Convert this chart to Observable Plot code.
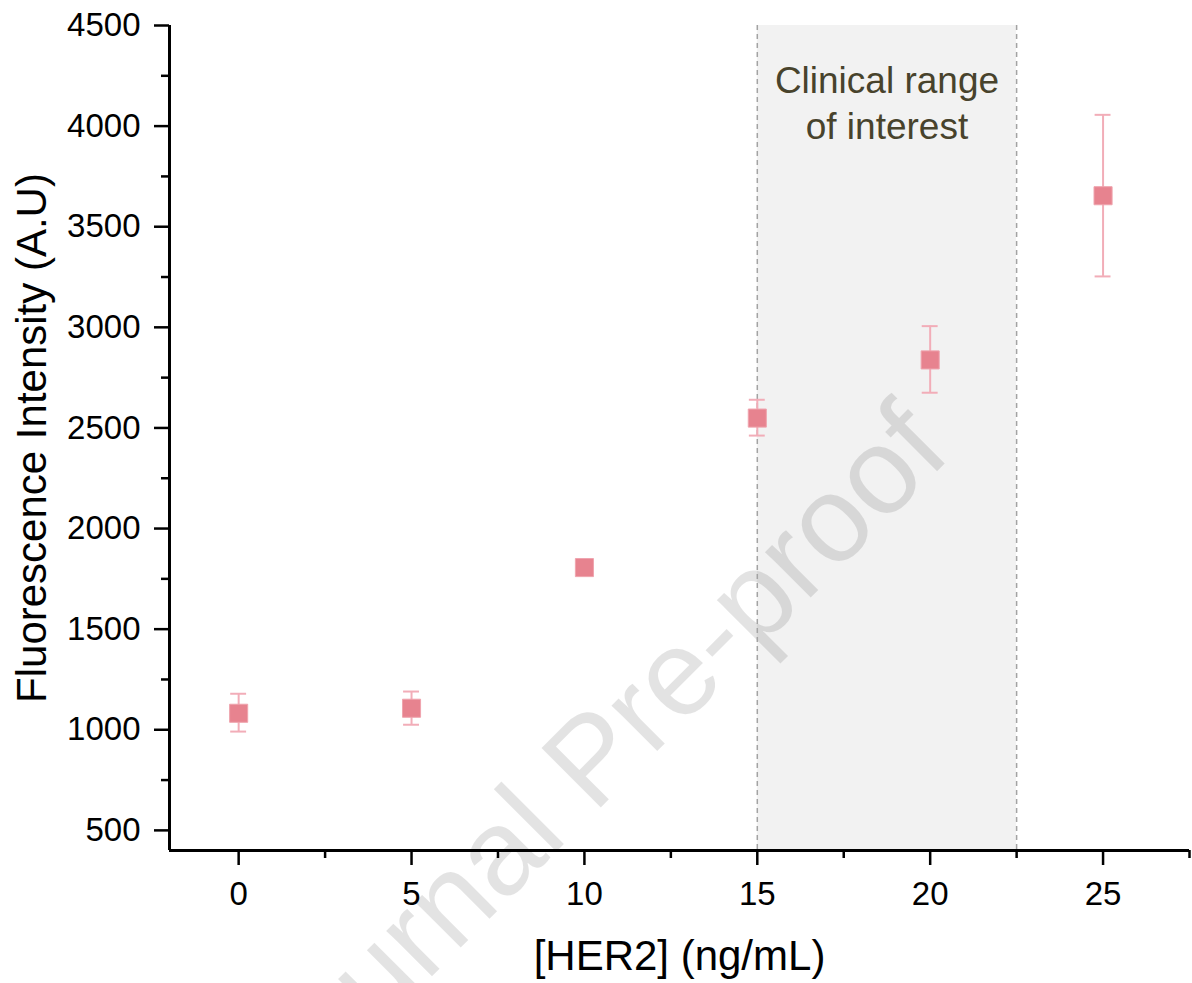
<!DOCTYPE html>
<html>
<head>
<meta charset="utf-8">
<script src="https://cdn.jsdelivr.net/npm/d3@7"></script>
<script src="https://cdn.jsdelivr.net/npm/@observablehq/plot@0.6"></script>
<style>
  html, body { margin: 0; padding: 0; background: #fff; }
  #chart svg { display: block; }
</style>
</head>
<body>
<div id="chart"></div>
<script>
// ---- data ----
const concentrations = [0, 5, 10, 15, 20, 25];           // [HER2] ng/mL
const intensity      = [1082, 1107, 1806, 2549, 2838, 3654];
const errLow         = [991, 1025, 1776, 2462, 2675, 3253];
const errHigh        = [1179, 1190, 1836, 2640, 3006, 4056];

const xDomain = [-2, 27.5];
const yDomain = [400, 4500];
const xTicks = [0, 5, 10, 15, 20, 25];
const xMinorTicks = [2.5, 7.5, 12.5, 17.5, 22.5, 27.5];
const yTicks = [500, 1000, 1500, 2000, 2500, 3000, 3500, 4000, 4500];
const yMinorTicks = [750, 1250, 1750, 2250, 2750, 3250, 3750, 4250];

const clinicalRange = [15, 22.5];
const annotationText = "Clinical range\nof interest";
const annotationY = 4330;
const xLabel = "[HER2] (ng/mL)";
const yLabel = "Fluorescence Intensity (A.U)";
const watermark = "Journal Pre-proof";

const data = concentrations.map((x, i) => ({x, y: intensity[i], lo: errLow[i], hi: errHigh[i]}));

const capHalf = 0.23; // half cap width in x units
const font = "Arial, 'Liberation Sans', Helvetica, sans-serif";

const chart = Plot.plot({
  width: 1192,
  height: 983,
  marginTop: 25,
  marginLeft: 169,
  marginRight: 3,
  marginBottom: 133,
  x: {domain: xDomain, label: null},
  y: {domain: yDomain, label: null},
  style: {fontFamily: font, fontSize: "33px", background: "#fff", color: "#000", overflow: "hidden"},
  marks: [
    // shaded clinical range
    Plot.rect([clinicalRange], {x1: d => d[0], x2: d => d[1], fill: "#f2f2f2"}),
    // watermark
    Plot.text([watermark], {
      text: d => d, frameAnchor: "top-left", dx: 423, dy: 735, rotate: -45,
      textAnchor: "middle", lineAnchor: "middle",
      fontSize: 122, fill: "#000", fillOpacity: 0.11
    }),
    // dashed boundaries
    Plot.ruleX(clinicalRange, {stroke: "#a3a3a3", strokeWidth: 1.5, strokeDasharray: "5,4"}),
    // annotation
    Plot.text([annotationText], {
      text: d => d,
      x: () => (clinicalRange[0] + clinicalRange[1]) / 2,
      y: () => annotationY,
      fontSize: 37, lineHeight: 1.26, lineAnchor: "top", fill: "#48432c"
    }),
    // error bars
    Plot.ruleX(data, {x: "x", y1: "lo", y2: "hi", stroke: "#f2adb8", strokeWidth: 2}),
    Plot.ruleY(data, {y: "hi", x1: d => d.x - capHalf, x2: d => d.x + capHalf, stroke: "#f2adb8", strokeWidth: 2}),
    Plot.ruleY(data, {y: "lo", x1: d => d.x - capHalf, x2: d => d.x + capHalf, stroke: "#f2adb8", strokeWidth: 2}),
    // points
    Plot.dot(data, {x: "x", y: "y", symbol: "square", r: 10.2, fill: "#e7838f", stroke: "#efa4ae", strokeWidth: 1}),
    // axis lines
    Plot.ruleX([xDomain[0]], {stroke: "#000", strokeWidth: 3}),
    Plot.ruleY([yDomain[0]], {stroke: "#000", strokeWidth: 3}),
    // axes
    Plot.axisY(yTicks, {anchor: "left", tickSize: 15, tickPadding: 14, fontSize: 33, strokeWidth: 2.5, tickFormat: d3.format("d"), label: null}),
    Plot.axisY(yMinorTicks, {anchor: "left", tickSize: 8, strokeWidth: 2.5, tickFormat: () => "", label: null}),
    Plot.axisX(xTicks, {anchor: "bottom", tickSize: 15, tickPadding: 16, fontSize: 33, strokeWidth: 2.5, tickFormat: d3.format("d"), label: null}),
    Plot.axisX(xMinorTicks, {anchor: "bottom", tickSize: 8, strokeWidth: 2.5, tickFormat: () => "", label: null}),
    // axis titles
    Plot.text([yLabel], {text: d => d, frameAnchor: "left", dx: -137, rotate: -90, textAnchor: "middle", lineAnchor: "middle", fontSize: 42, fill: "#000"}),
    Plot.text([xLabel], {text: d => d, frameAnchor: "bottom", dy: 106, textAnchor: "middle", lineAnchor: "middle", fontSize: 42, fill: "#000"})
  ]
});

document.getElementById("chart").appendChild(chart);
</script>
</body>
</html>
